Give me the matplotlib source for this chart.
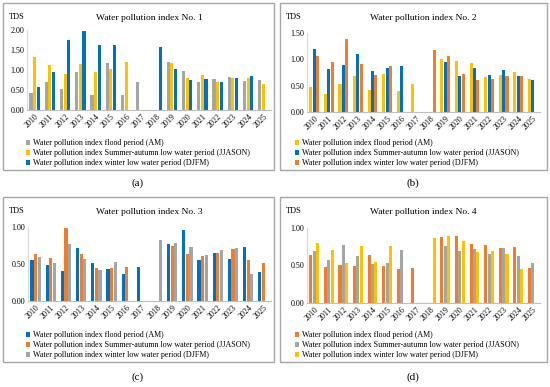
import matplotlib

matplotlib.use("Agg")
import matplotlib.pyplot as plt
import numpy as np
from matplotlib.patches import Patch, Rectangle

W, H = 550, 387

YEARS = [str(y) for y in range(2010, 2026)]

GRAY = "#A5A5A5"
YELLOW = "#FFC000"
BLUE = "#0070C0"
ORANGE = "#ED7D31"

LABELS = [
    "Water pollution index flood period (AM)",
    "Water pollution index Summer-autumn low water period (JJASON)",
    "Water pollution index winter low water period (DJFM)",
]

# No. 1: AM, JJASON, DJFM
n1_am = [0.43, 0.70, 0.53, 0.96, 0.37, 1.18, 0.37, 0.70, None, 1.21, 0.98, 0.71, 0.78, 0.83, 0.73, 0.76]
n1_jjason = [1.33, 1.13, 0.90, 1.16, 0.95, 1.03, 1.19, None, None, 1.18, 0.81, 0.88, 0.71, 0.79, 0.80, 0.64]
n1_djfm = [0.58, 0.95, 1.76, 1.98, 1.62, 1.63, None, None, 1.57, 1.03, 0.76, 0.78, 0.69, 0.79, 0.84, None]

# No. 2
n2_am = [0.47, 0.34, 0.53, 0.68, 0.41, 0.72, 0.39, 0.54, None, 1.01, 0.96, 0.93, 0.67, 0.71, 0.75, 0.62]
n2_jjason = [1.19, 0.82, 0.90, 1.10, 0.78, 0.84, 0.87, None, None, 0.95, 0.69, 0.84, 0.70, 0.80, 0.69, 0.61]
n2_djfm = [1.06, 0.95, 1.39, 0.92, 0.71, 0.87, None, None, 1.17, 1.06, 0.72, 0.61, 0.62, 0.68, 0.69, None]

# No. 3
n3_am = [0.56, 0.48, 0.40, 0.71, 0.52, 0.43, 0.37, 0.46, None, 0.77, 0.96, 0.55, 0.65, 0.57, 0.73, 0.39]
n3_jjason = [0.63, 0.58, 0.99, 0.63, 0.45, 0.44, 0.46, None, None, 0.75, 0.63, 0.61, 0.65, 0.70, 0.55, 0.51]
n3_djfm = [0.60, 0.51, 0.77, 0.57, 0.42, 0.53, None, None, 0.83, 0.78, 0.73, 0.62, 0.69, 0.72, 0.36, None]

# No. 4
n4_am = [0.64, 0.48, 0.51, 0.50, 0.64, 0.50, 0.46, 0.47, None, 0.88, 0.89, 0.79, 0.77, 0.74, 0.75, 0.47]
n4_jjason = [0.69, 0.57, 0.78, 0.63, 0.52, 0.54, 0.71, None, None, 0.76, 0.70, 0.72, 0.65, 0.74, 0.63, 0.54]
n4_djfm = [0.80, 0.71, 0.54, 0.76, 0.55, 0.76, None, None, 0.87, 0.90, 0.83, 0.68, 0.69, 0.66, 0.45, None]

plt.rcParams.update({"font.family": ["Liberation Serif", "DejaVu Serif"]})


def rect(x0, y0, x1, y1):
    return [x0 / W, 1 - y1 / H, (x1 - x0) / W, (y1 - y0) / H]


def panel(fig, box, ax_px, series, colors, ymax, title, tag, leg_xy, tag_xy):
    bx0, by0, bx1, by1 = box
    fig.patches.append(Rectangle((bx0 / W, 1 - by1 / H), (bx1 - bx0) / W, (by1 - by0) / H,
                                 transform=fig.transFigure, fill=False,
                                 edgecolor="#A6A6A6", lw=1.0))
    ax = fig.add_axes(rect(*ax_px))
    x = np.arange(len(YEARS))
    for i, (vals, c) in enumerate(zip(series, colors)):
        v = np.array([np.nan if a is None else a for a in vals], dtype=float)
        ax.bar(x + (i - 1) * 0.235, v, width=0.21, color=c, edgecolor="none")
    ax.set_xlim(-0.5, len(YEARS) - 0.5)
    ax.set_ylim(0, ymax)
    ticks = np.arange(0, ymax + 0.01, 0.5)
    ax.set_yticks(ticks)
    ax.set_yticklabels([f"{t:.2f}" for t in ticks], fontsize=5.8)
    ax.set_xticks(x)
    ax.set_xticklabels(YEARS, fontsize=5.8, rotation=45, ha="right", rotation_mode="anchor")
    ax.tick_params(length=0, pad=2)
    for s in ("top", "right"):
        ax.spines[s].set_visible(False)
    ax.spines["left"].set_color("#D9D9D9")
    ax.spines["bottom"].set_color("#BFBFBF")
    ax.spines["left"].set_linewidth(0.8)
    ax.spines["bottom"].set_linewidth(0.8)

    fig.text((bx0 + 6) / W, 1 - (by0 + 14) / H, "TDS", fontsize=6, va="center", ha="left")
    fig.text(((ax_px[0] + ax_px[2]) / 2) / W, 1 - (by0 + 15) / H, title, fontsize=6.8,
             ha="center", va="center")

    handles = [Patch(facecolor=c, edgecolor="none") for c in colors]
    fig.legend(handles, LABELS, loc="upper left",
               bbox_to_anchor=(leg_xy[0] / W, 1 - leg_xy[1] / H),
               frameon=False, fontsize=5.8, handlelength=0.55, handleheight=0.55,
               handletextpad=0.3, labelspacing=0.25, borderpad=0, borderaxespad=0)
    fig.text(tag_xy[0] / W, 1 - tag_xy[1] / H, tag, fontsize=8, ha="center", va="center")
    return ax


fig = plt.figure(figsize=(W / 100, H / 100), dpi=100)
fig.patch.set_facecolor("white")

panel(fig, (3, 3, 274, 170), (27, 30, 271, 110),
      [n1_am, n1_jjason, n1_djfm], [GRAY, YELLOW, BLUE], 2.0,
      "Water pollution index No. 1", "(a)", (26, 139), (138, 183))
panel(fig, (280, 3, 547, 170), (307, 33, 540, 112),
      [n2_am, n2_jjason, n2_djfm], [YELLOW, BLUE, ORANGE], 1.5,
      "Water pollution index No. 2", "(b)", (295, 139), (413, 183))
panel(fig, (3, 197, 274, 362), (28, 227, 271, 301),
      [n3_am, n3_jjason, n3_djfm], [BLUE, ORANGE, GRAY], 1.0,
      "Water pollution index No. 3", "(c)", (26, 331), (138, 377))
panel(fig, (280, 197, 547, 362), (307, 228, 540, 303),
      [n4_am, n4_jjason, n4_djfm], [ORANGE, GRAY, YELLOW], 1.0,
      "Water pollution index No. 4", "(d)", (295, 331), (413, 377))

fig.savefig("out.png", dpi=100)
